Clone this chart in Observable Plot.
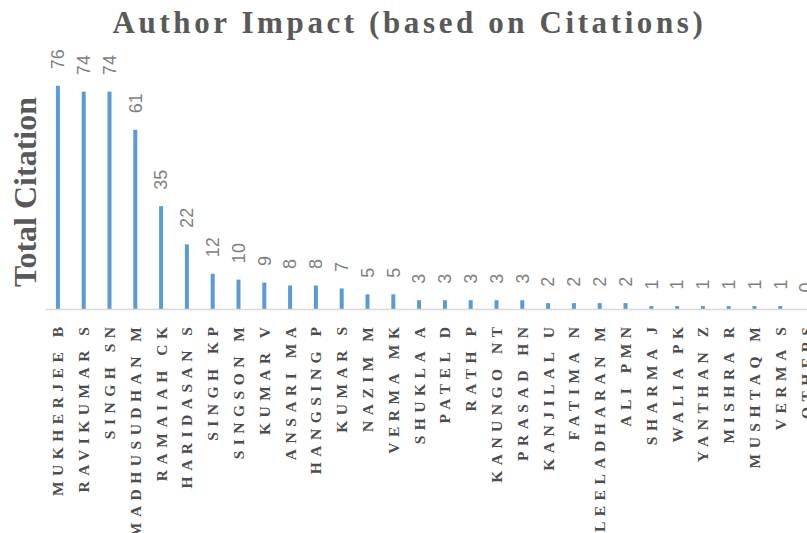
<!DOCTYPE html>
<html>
<head>
<meta charset="utf-8">
<script src="https://cdn.jsdelivr.net/npm/d3@7"></script>
<script src="https://cdn.jsdelivr.net/npm/@observablehq/plot@0.6"></script>
<style>
  html, body { margin: 0; padding: 0; background: #fff; overflow: hidden; width: 807px; height: 533px; }
  #title {
    box-sizing: border-box; height: 40px; padding-top: 7px; padding-left: 12px;
    font-family: "Liberation Serif", "Times New Roman", serif; font-weight: bold;
    font-size: 31px; line-height: 31px; letter-spacing: 3.6px; color: #595959;
    text-align: center; white-space: nowrap; width: 807px;
  }
  #chart { width: 820px; }
  #chart svg { display: block; max-width: none !important; }
  [aria-label="x-axis tick label"] text { letter-spacing: 5.5px; }
</style>
</head>
<body>
<div id="title">Author Impact (based on Citations)</div>
<div id="chart"></div>
<script>
const authors = [
  "MUKHERJEE B", "RAVIKUMAR S", "SINGH SN", "MADHUSUDHAN M", "RAMAIAH CK",
  "HARIDASAN S", "SINGH KP", "SINGSON M", "KUMAR V", "ANSARI MA",
  "HANGSING P", "KUMAR S", "NAZIM M", "VERMA MK", "SHUKLA A",
  "PATEL D", "RATH P", "KANUNGO NT", "PRASAD HN", "KANJILAL U",
  "FATIMA N", "LEELADHARAN M", "ALI PMN", "SHARMA J", "WALIA PK",
  "YANTHAN Z", "MISHRA R", "MUSHTAQ M", "VERMA S", "OTHERS"
];
const citations = [
  76, 74, 74, 61, 35,
  22, 12, 10, 9, 8,
  8, 7, 5, 5, 3,
  3, 3, 3, 3, 2,
  2, 2, 2, 1, 1,
  1, 1, 1, 1, 0
];
const yLabel = "Total Citation";

const data = authors.map((a, i) => ({author: a, citations: citations[i]}));

const chart = Plot.plot({
  width: 820,
  height: 493,
  marginLeft: 45,
  marginRight: 1,
  marginTop: 34,
  marginBottom: 224,
  style: {color: "#4d4d4d", background: "#fff", overflow: "visible", maxWidth: "none"},
  x: {domain: authors, padding: 0, round: false},
  y: {domain: [0, 80], axis: null},
  marks: [
    Plot.barY(data, {x: "author", y: "citations", fill: "#5B9BD5", insetLeft: 10.9, insetRight: 10.9}),
    Plot.ruleY([0], {stroke: "#d9d9d9", strokeWidth: 1.5}),
    Plot.text(data, {
      x: "author", y: "citations", text: d => String(d.citations),
      rotate: -90, textAnchor: "start", dy: -17,
      fontSize: 18, fontFamily: "Liberation Sans", fill: "#7f7f7f"
    }),
    Plot.axisX({
      tickRotate: -90, tickSize: 0, tickPadding: 12, label: null,
      fontSize: 15.5, fontWeight: "bold", fontFamily: "Liberation Serif", fill: "#4d4d4d"
    }),
    Plot.text([yLabel], {
      frameAnchor: "left", dx: -20, rotate: -90, textAnchor: "middle", lineAnchor: "middle",
      fontSize: 32, fontWeight: "bold", fontFamily: "Liberation Serif", fill: "#595959"
    })
  ]
});
document.getElementById("chart").appendChild(chart);
</script>
</body>
</html>
